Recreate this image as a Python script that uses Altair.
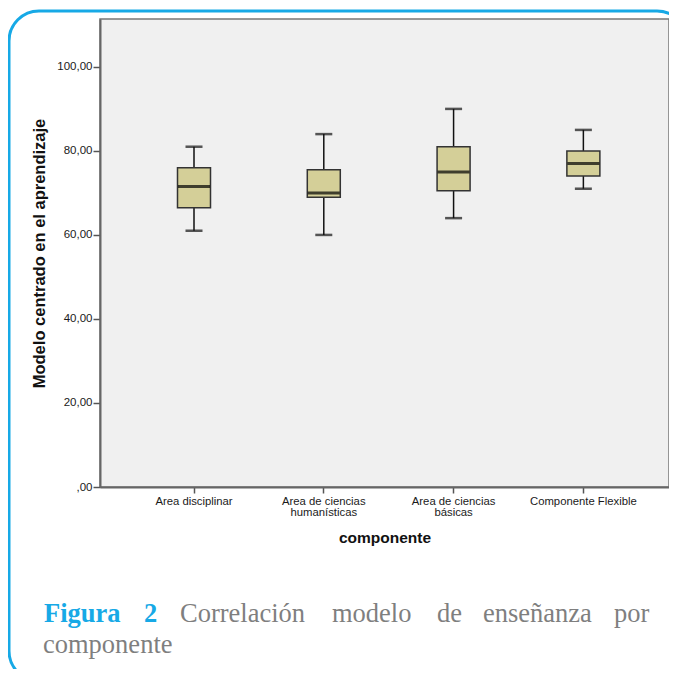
import altair as alt
import pandas as pd

# ---- data ----
categories = [
    "Area disciplinar",
    "Area de ciencias\nhumanísticas",
    "Area de ciencias\nbásicas",
    "Componente Flexible",
]
whisker_low = [61, 60, 64, 71]
q1 = [66.5, 69, 70.5, 74]
median = [71.5, 70, 75, 77]
q3 = [76, 75.5, 81, 80]
whisker_high = [81, 84, 90, 85]
y_ticks = [0, 20, 40, 60, 80, 100]

caption_bold = ["Figura", "2"]
caption_words = ["Correlación", "modelo", "de", "enseñanza", "por"]
caption_line2 = ["componente"]

# ---- layout (pixels relative to the plot area) ----
W, H = 569, 468
bold_x = [-56, 44]
word_x = [80, 232, 337, 383, 514]
line1_y = 603
line2_x = [-57]
line2_y = 634

BLUE = "#17a9e6"
GRAY_TXT = "#7f7f7f"
BOX_FILL = "#d4cf98"
FONT = "Liberation Sans"

df = pd.DataFrame({
    "cat": categories,
    "lo": whisker_low,
    "q1": q1,
    "med": median,
    "q3": q3,
    "hi": whisker_high,
})

x_enc = alt.X(
    "cat:N",
    sort=categories,
    scale=alt.Scale(type="band", paddingInner=0, paddingOuter=0.192, align=0.584),
    title="componente",
    axis=alt.Axis(
        labelAngle=0,
        labelExpr="split(datum.label, '\\n')",
        labelLineHeight=11,
        labelFontSize=11.3,
        labelPadding=2,
        labelColor="#1a1a1a",
        labelFont=FONT,
        tickSize=6,
        tickColor="#555555",
        tickWidth=1.5,
        bandPosition=0.5,
        domainColor="#666666",
        domainWidth=2,
        titleFont=FONT,
        titleFontSize=15.5,
        titleFontWeight="bold",
        titleColor="#111111",
        titlePadding=13,
    ),
)

y_scale = alt.Scale(domain=[0, 111.4], nice=False, zero=True)
y_axis = alt.Axis(
    values=y_ticks,
    labelExpr="datum.value == 0 ? ',00' : replace(format(datum.value, '.2f'), '.', ',')",
    labelFontSize=11.5,
    labelFont=FONT,
    labelColor="#1a1a1a",
    labelPadding=1,
    tickSize=7,
    tickColor="#555555",
    tickWidth=1.5,
    domainColor="#666666",
    domainWidth=2,
    grid=False,
    titleFont=FONT,
    titleFontSize=16.5,
    titleFontWeight="bold",
    titleColor="#111111",
    titlePadding=9,
)
YT = "Modelo centrado en el aprendizaje"


def yenc(field):
    return alt.Y(f"{field}:Q", scale=y_scale, axis=y_axis, title=YT)


base = alt.Chart(df)

frame = alt.Chart(alt.Data(values=[{}])).mark_rect(
    filled=False, stroke=BLUE, strokeWidth=3, cornerRadius=30
).encode(
    x=alt.value(-91), x2=alt.value(587), y=alt.value(-8), y2=alt.value(662)
)

whiskers = base.mark_rule(color="#111111", strokeWidth=1.5).encode(
    x=x_enc, y=yenc("lo"), y2="hi:Q"
)
boxes = base.mark_bar(size=33, fill=BOX_FILL, stroke="#333333", strokeWidth=1.5).encode(
    x=x_enc, y=yenc("q1"), y2="q3:Q"
)
medians = base.mark_tick(size=32, thickness=3, color="#000000").encode(
    x=x_enc, y=yenc("med")
)
caps_lo = base.mark_tick(size=17, thickness=2.5, color="#111111").encode(
    x=x_enc, y=yenc("lo")
)
caps_hi = base.mark_tick(size=17, thickness=2.5, color="#111111").encode(
    x=x_enc, y=yenc("hi")
)

texts = []
for w, xp in zip(caption_bold, bold_x):
    texts.append(
        alt.Chart(alt.Data(values=[{"t": w}])).mark_text(
            align="left", baseline="alphabetic", font="Liberation Serif",
            fontSize=26.5, fontWeight="bold", color=BLUE
        ).encode(x=alt.value(xp), y=alt.value(line1_y), text="t:N")
    )
for w, xp in zip(caption_words, word_x):
    texts.append(
        alt.Chart(alt.Data(values=[{"t": w}])).mark_text(
            align="left", baseline="alphabetic", font="Liberation Serif",
            fontSize=26.5, color=GRAY_TXT
        ).encode(x=alt.value(xp), y=alt.value(line1_y), text="t:N")
    )
for w, xp in zip(caption_line2, line2_x):
    texts.append(
        alt.Chart(alt.Data(values=[{"t": w}])).mark_text(
            align="left", baseline="alphabetic", font="Liberation Serif",
            fontSize=26.5, color=GRAY_TXT
        ).encode(x=alt.value(xp), y=alt.value(line2_y), text="t:N")
    )

chart = alt.layer(frame, whiskers, boxes, medians, caps_lo, caps_hi, *texts).properties(
    width=W,
    height=H,
    autosize=alt.AutoSizeParams(type="none"),
    padding={"left": 92, "top": 11, "right": 0, "bottom": 182},
    background="white",
).configure_view(
    fill="#f0f0f0", stroke="#777777", strokeWidth=1.5
)

chart.save("out.html", embed_options={"renderer": "svg", "actions": False})
